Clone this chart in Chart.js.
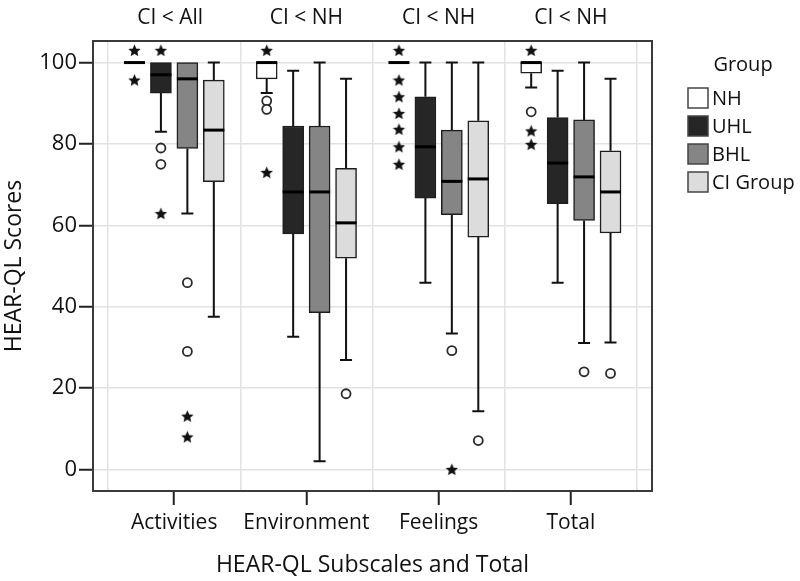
<!DOCTYPE html>
<html>
<head>
<meta charset="utf-8">
<script src="https://cdn.jsdelivr.net/npm/chart.js@4.4.1/dist/chart.umd.min.js"></script>
<style>
  html, body { margin: 0; padding: 0; background: #fff; }
  #wrap { width: 800px; height: 581px; }
</style>
</head>
<body>
<div id="wrap"><canvas id="boxChart" width="800" height="581"></canvas></div>
<script>
const categories = ['Activities', 'Environment', 'Feelings', 'Total'];
const groups = ['NH', 'UHL', 'BHL', 'CI Group'];
const groupColors = ['#ffffff', '#262626', '#858585', '#dcdcdc'];
const comparisons = ['CI < All', 'CI < NH', 'CI < NH', 'CI < NH'];
const yTicks = [0, 20, 40, 60, 80, 100];

// one row per subscale: [lower whisker, Q1, median, Q3, upper whisker]
const nhStats = [[100, 100, 100, 100, 100], [92.5, 96, 100, 100, 100], [100, 100, 100, 100, 100], [93.9, 97.4, 100, 100, 100]];
const uhlStats = [[83, 92.5, 97, 100, 100], [32.6, 57.9, 68.2, 84.4, 98], [45.9, 66.7, 79.3, 91.6, 100], [45.9, 65.3, 75.3, 86.5, 98]];
const bhlStats = [[62.9, 78.9, 96, 100, 100], [2, 38.5, 68.2, 84.4, 100], [33.4, 62.6, 70.8, 83.4, 100], [31.1, 61.2, 71.9, 85.9, 100]];
const ciStats = [[37.5, 70.7, 83.4, 95.7, 100], [26.9, 51.9, 60.6, 74, 96], [14.3, 57.1, 71.4, 85.7, 100], [31.2, 58.1, 68.2, 78.3, 96]];
const allStats = [nhStats, uhlStats, bhlStats, ciStats];

// outliers: [subscale, group, score]
const circleOutliers = [
  [0, 1, 79], [0, 1, 75], [0, 2, 45.9], [0, 2, 29],
  [1, 0, 90.6], [1, 0, 88.5], [1, 3, 18.6],
  [2, 2, 29.2], [2, 3, 7.1],
  [3, 0, 87.9], [3, 2, 24], [3, 3, 23.6]
];
const starOutliers = [
  [0, 0, 95.7], [0, 1, 62.9], [0, 2, 13.1], [0, 2, 8],
  [1, 0, 73],
  [2, 0, 95.7], [2, 0, 91.6], [2, 0, 87.5], [2, 0, 83.6], [2, 0, 79.3], [2, 0, 75], [2, 2, 0],
  [3, 0, 83.2], [3, 0, 79.9]
];
// significance marks drawn above the boxes: [subscale, group]
const sigMarks = [[0, 0], [0, 1], [1, 0], [2, 0], [3, 0]];
const sigLevel = 103;

const slot = (g) => (g - 1.5) * 0.2;
const pad = 15 / 132;

// filled five point star used for the extreme values
function makeStar(size) {
  const c = document.createElement('canvas');
  c.width = size; c.height = size;
  const g = c.getContext('2d');
  const r1 = size / 2, r2 = size / 4.3;
  g.beginPath();
  for (let i = 0; i < 10; i++) {
    const r = i % 2 === 0 ? r1 : r2;
    const a = -Math.PI / 2 + i * Math.PI / 5;
    const px = size / 2 + r * Math.cos(a), py = size / 2 + 0.6 + r * Math.sin(a);
    if (i === 0) g.moveTo(px, py); else g.lineTo(px, py);
  }
  g.closePath();
  g.fillStyle = '#111';
  g.fill();
  return c;
}
const starImg = makeStar(13);

Chart.defaults.font.family = '"Open Sans", sans-serif';
Chart.defaults.color = '#111';

const boxSets = groups.map((name, gi) => ({
  type: 'bar',
  label: name,
  data: categories.map((c, ci) => ({ x: ci + slot(gi), y: [allStats[gi][ci][1], allStats[gi][ci][3]] })),
  backgroundColor: groupColors[gi],
  borderColor: '#1e1e1e',
  borderWidth: 1.5,
  borderSkipped: false,
  barThickness: 21,
  grouped: false,
  order: 3,
}));

const pointSets = [
  {
    type: 'scatter',
    label: 'outliers',
    data: circleOutliers.map(([c, g, v]) => ({ x: c + slot(g), y: v })),
    pointStyle: 'circle',
    radius: 4.5,
    backgroundColor: '#fff',
    borderColor: '#2a2a2a',
    borderWidth: 1.8,
    order: 1,
  },
  {
    type: 'scatter',
    label: 'extremes',
    data: starOutliers.map(([c, g, v]) => ({ x: c + slot(g), y: v }))
      .concat(sigMarks.map(([c, g]) => ({ x: c + slot(g), y: sigLevel }))),
    pointStyle: starImg,
    order: 1,
  },
];

const boxPlugin = {
  id: 'boxParts',
  beforeDatasetsDraw(chart) {
    const { ctx, chartArea: a, scales: { x, y } } = chart;
    ctx.save();
    ctx.strokeStyle = '#3a3a3a';
    ctx.lineWidth = 2;
    ctx.strokeRect(a.left, a.top, a.right - a.left, a.bottom - a.top);
    // whiskers
    ctx.strokeStyle = '#111';
    ctx.lineWidth = 2;
    allStats.forEach((stats, gi) => {
      stats.forEach((s, ci) => {
        const cx = x.getPixelForValue(ci + slot(gi));
        [[s[0], s[1]], [s[4], s[3]]].forEach(([end, edge]) => {
          if (end === edge) return;
          ctx.beginPath();
          ctx.moveTo(cx, y.getPixelForValue(edge));
          ctx.lineTo(cx, y.getPixelForValue(end));
          ctx.moveTo(cx - 6, y.getPixelForValue(end));
          ctx.lineTo(cx + 6, y.getPixelForValue(end));
          ctx.stroke();
        });
      });
    });
    ctx.restore();
  },
  afterDatasetsDraw(chart) {
    const { ctx, scales: { x, y } } = chart;
    ctx.save();
    ctx.strokeStyle = '#000';
    ctx.lineWidth = 3;
    allStats.forEach((stats, gi) => {
      stats.forEach((s, ci) => {
        const cx = x.getPixelForValue(ci + slot(gi));
        const my = y.getPixelForValue(s[2]);
        ctx.beginPath();
        ctx.moveTo(cx - 10.5, my);
        ctx.lineTo(cx + 10.5, my);
        ctx.stroke();
      });
    });
    ctx.restore();
  },
  afterDraw(chart) {
    const { ctx, scales: { x } } = chart;
    ctx.save();
    ctx.fillStyle = '#111';
    ctx.font = '21px "Open Sans", sans-serif';
    ctx.textAlign = 'center';
    ctx.textBaseline = 'middle';
    comparisons.forEach((t, i) => ctx.fillText(t, x.getPixelForValue(i) - (i === 0 ? 4 : 0), 18));
    // legend
    ctx.font = '20px "Open Sans", sans-serif';
    ctx.fillText('Group', 743, 65);
    ctx.textAlign = 'left';
    groups.forEach((g, i) => {
      const top = 88 + i * 28;
      ctx.fillStyle = groupColors[i];
      ctx.fillRect(688, top, 20, 20);
      ctx.strokeStyle = '#444';
      ctx.lineWidth = 1.5;
      ctx.strokeRect(688, top, 20, 20);
      ctx.fillStyle = '#111';
      ctx.fillText(g, 712, top + 11);
    });
    ctx.restore();
  },
};

new Chart(document.getElementById('boxChart'), {
  type: 'bar',
  data: { datasets: boxSets.concat(pointSets) },
  options: {
    responsive: false,
    animation: false,
    layout: { padding: { top: 41, right: 148, left: 0, bottom: 0 } },
    plugins: {
      legend: { display: false },
      tooltip: { enabled: false },
    },
    scales: {
      x: {
        type: 'linear',
        offset: false,
        min: -0.5 - pad,
        max: categories.length - 0.5 + pad,
        afterBuildTicks: (scale) => {
          const t = [];
          for (let v = -0.5; v <= categories.length - 0.5; v += 0.5) t.push({ value: v });
          scale.ticks = t;
        },
        afterFit: (scale) => { scale.height = 90; },
        border: { display: false },
        grid: {
          offset: false,
          color: (c) => (c.tick && Number.isInteger(c.tick.value) ? 'rgba(0,0,0,0)' : '#e2e2e2'),
          tickColor: (c) => (c.tick && Number.isInteger(c.tick.value) ? '#222' : 'rgba(0,0,0,0)'),
          lineWidth: 1.5,
          tickWidth: 2,
          tickLength: 14,
        },
        ticks: {
          autoSkip: false,
          maxRotation: 0,
          padding: 5,
          font: { size: 21 },
          color: '#111',
          callback: (v) => (Number.isInteger(v) ? categories[v] : ''),
        },
        title: {
          display: true,
          text: 'HEAR-QL Subscales and Total',
          font: { size: 23 },
          color: '#111',
          padding: { top: 0, bottom: 2 },
        },
      },
      y: {
        min: -5.3,
        max: 105.3,
        afterBuildTicks: (scale) => { scale.ticks = yTicks.map((v) => ({ value: v })); },
        afterFit: (scale) => { scale.width = 93; },
        border: { display: false },
        grid: {
          color: '#e2e2e2',
          lineWidth: 1.5,
          tickColor: '#222',
          tickWidth: 2,
          tickLength: 14,
        },
        ticks: { padding: 2, font: { size: 22 }, color: '#111' },
        title: {
          display: true,
          text: 'HEAR-QL Scores',
          font: { size: 23 },
          color: '#111',
          padding: { top: 1, bottom: 0 },
        },
      },
    },
  },
  plugins: [boxPlugin],
});
</script>
</body>
</html>
